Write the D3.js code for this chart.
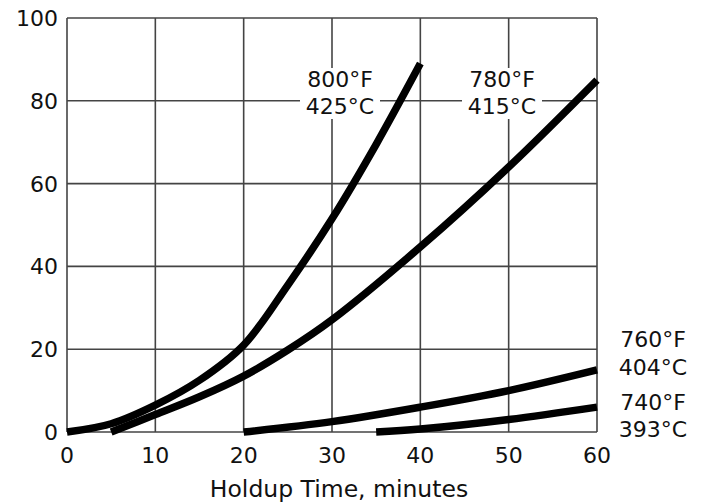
<!DOCTYPE html>
<html>
<head>
<meta charset="utf-8">
<script src="https://cdn.jsdelivr.net/npm/d3@7"></script>
<style>
  body { margin: 0; background: #fff; }
  text { font-family: "DejaVu Sans", sans-serif; fill: #111; }
</style>
</head>
<body>
<div id="chart"></div>
<script>
const w = 703, h = 504;
const margin = { left: 67, right: 106, top: 18, bottom: 72 };

const xTicks = [0, 10, 20, 30, 40, 50, 60];
const yTicks = [0, 20, 40, 60, 80, 100];

// holdup time (min) vs. value
const t800 = [0, 5, 10, 15, 20, 25, 30, 35, 40];
const v800 = [0, 2, 6.5, 12.5, 21, 35.5, 51.5, 69.5, 89];
const t780 = [5, 10, 15, 20, 25, 30, 40, 50, 60];
const v780 = [0, 4.2, 8.5, 13.5, 19.8, 27.1, 44.7, 64, 85];
const t760 = [20, 30, 40, 50, 60];
const v760 = [0, 2.5, 6, 10, 15];
const t740 = [35, 40, 50, 60];
const v740 = [0, 0.7, 3, 6];

const series = [
  { t: t800, v: v800, label: ["800°F", "425°C"], lx: 340, ly: [87, 114] },
  { t: t780, v: v780, label: ["780°F", "415°C"], lx: 502, ly: [87, 114] },
  { t: t760, v: v760, label: ["760°F", "404°C"], lx: 653, ly: [347, 375] },
  { t: t740, v: v740, label: ["740°F", "393°C"], lx: 653, ly: [410, 437] }
];

const x = d3.scaleLinear().domain([0, 60]).range([margin.left, w - margin.right]);
const y = d3.scaleLinear().domain([0, 100]).range([h - margin.bottom, margin.top]);

const svg = d3.select("#chart").append("svg").attr("width", w).attr("height", h);

// grid
svg.append("g").selectAll("line").data(xTicks).join("line")
  .attr("x1", d => x(d)).attr("x2", d => x(d))
  .attr("y1", y(0)).attr("y2", y(100))
  .attr("stroke", "#444").attr("stroke-width", 1.6);
svg.append("g").selectAll("line").data(yTicks).join("line")
  .attr("x1", x(0)).attr("x2", x(60))
  .attr("y1", d => y(d)).attr("y2", d => y(d))
  .attr("stroke", "#444").attr("stroke-width", 1.6);

// axis labels
svg.append("g").selectAll("text").data(xTicks).join("text")
  .attr("x", d => x(d)).attr("y", 463)
  .attr("text-anchor", "middle").attr("font-size", 22)
  .text(d => d);
svg.append("g").selectAll("text").data(yTicks).join("text")
  .attr("x", x(0) - 9).attr("y", d => y(d) + 8)
  .attr("text-anchor", "end").attr("font-size", 22)
  .text(d => d);
svg.append("text")
  .attr("x", 339).attr("y", 497)
  .attr("text-anchor", "middle").attr("font-size", 23.5)
  .text("Holdup Time, minutes");

// white knock-outs behind labels
series.forEach(s => {
  svg.append("rect")
    .attr("x", s.lx - 40).attr("y", s.ly[0] - 19)
    .attr("width", 80).attr("height", s.ly[1] - s.ly[0] + 24)
    .attr("fill", "#fff");
});

const line = d3.line().x(d => x(d[0])).y(d => y(d[1])).curve(d3.curveCatmullRom.alpha(0.5));
svg.append("g").selectAll("path").data(series).join("path")
  .attr("d", s => line(s.t.map((t, i) => [t, s.v[i]])))
  .attr("fill", "none").attr("stroke", "#000")
  .attr("stroke-width", 7.5).attr("stroke-linecap", "butt");

series.forEach(s => {
  s.label.forEach((txt, i) => {
    svg.append("text")
      .attr("x", s.lx).attr("y", s.ly[i])
      .attr("text-anchor", "middle").attr("font-size", 22)
      .text(txt);
  });
});
</script>
</body>
</html>
